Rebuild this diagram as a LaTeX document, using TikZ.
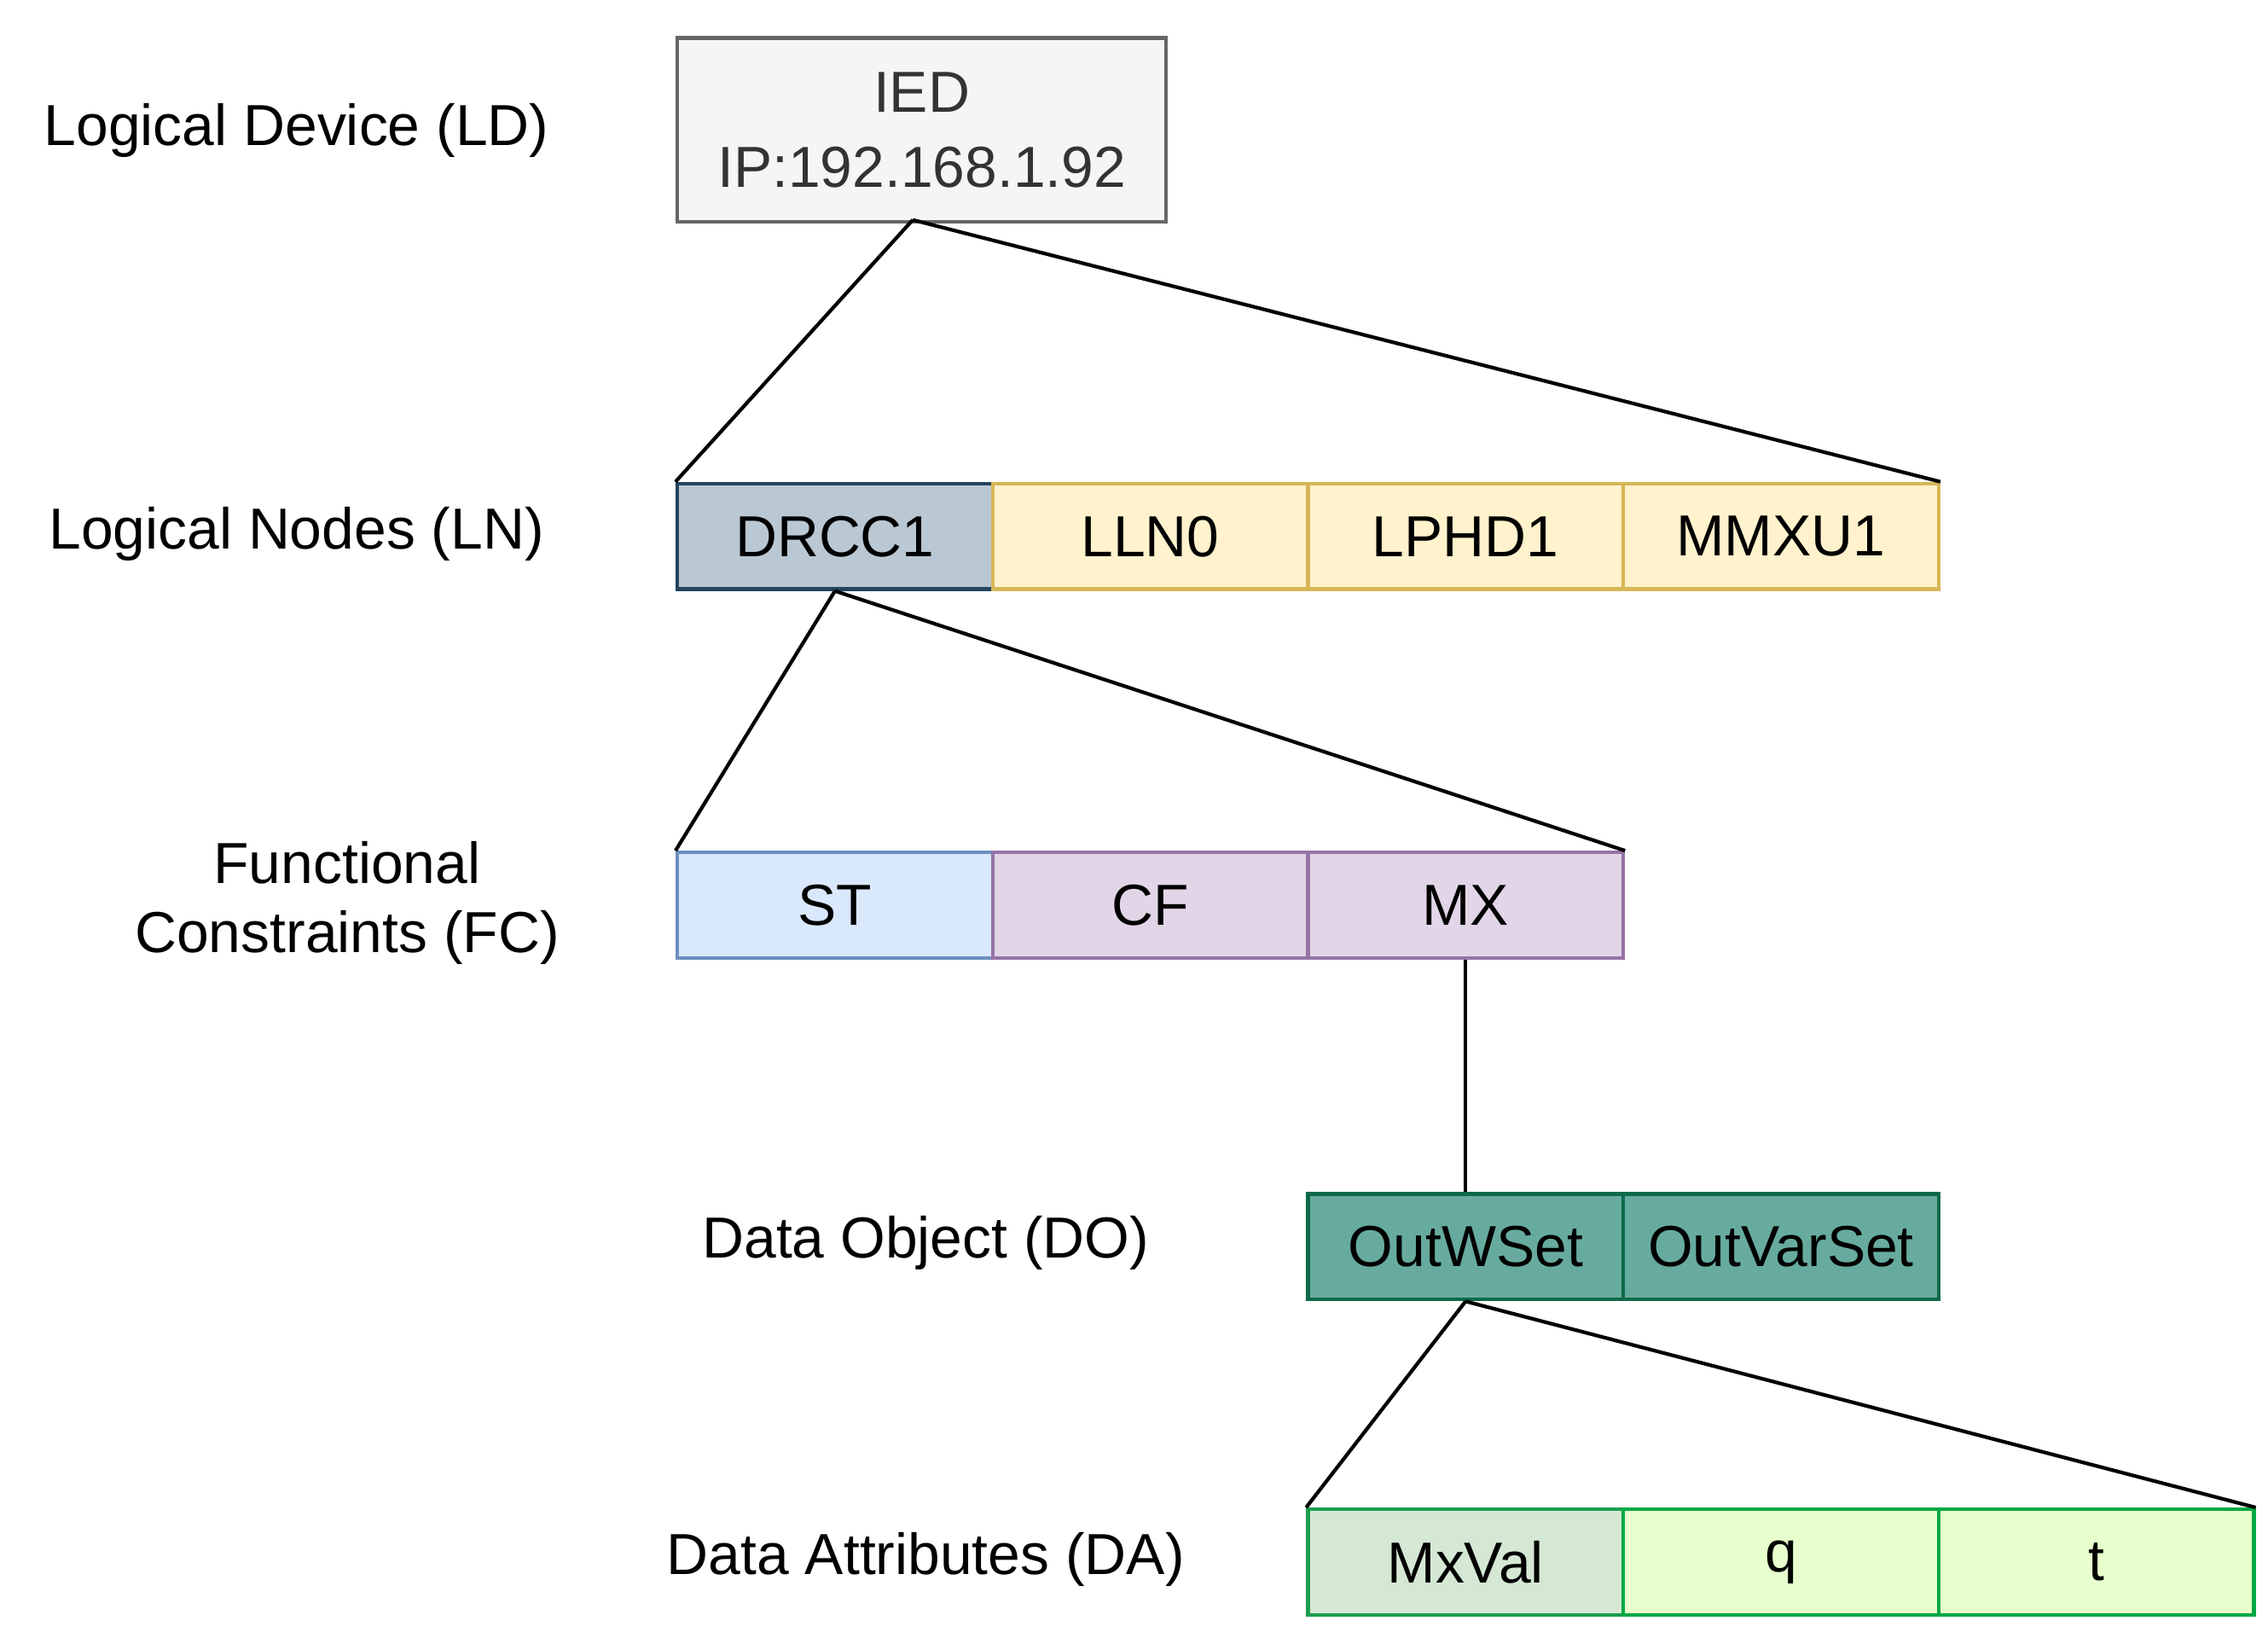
\documentclass[tikz,border=0pt]{standalone}
\usepackage{fontspec}
\setmainfont{Liberation Sans}
\begin{document}
\begin{tikzpicture}[x=1pt,y=-1pt,
  cell/.style={draw,line width=2.5pt,minimum width=218pt,minimum height=73pt,inner sep=0pt,anchor=north west,font=\fontsize{40}{48}\selectfont},
  lab/.style={font=\fontsize{40}{48}\selectfont,align=center},
  ln/.style={line width=2.5pt,black}]
\definecolor{gF}{HTML}{F5F5F5}\definecolor{gD}{HTML}{666666}
\definecolor{bgF}{HTML}{BAC8D3}\definecolor{bgD}{HTML}{23445D}
\definecolor{yF}{HTML}{FFF2CC}\definecolor{yD}{HTML}{D6B656}
\definecolor{bF}{HTML}{DAE8FC}\definecolor{bD}{HTML}{6C8EBF}
\definecolor{pF}{HTML}{E1D5E7}\definecolor{pD}{HTML}{9673A6}
\definecolor{dgF}{HTML}{67AB9F}\definecolor{dgD}{HTML}{0E6A4A}
\definecolor{lgF}{HTML}{D5E8D4}\definecolor{lgD}{HTML}{1A9E50}
\definecolor{xgF}{HTML}{E6FFCC}\definecolor{xgD}{HTML}{00A844}
\useasboundingbox (0,0) rectangle (1568,1132);
\node[cell,fill=gF,draw=gD,minimum width=338pt,minimum height=127pt,align=center,text=black!80] (ied) at (467,25) {IED\\[4pt]IP:192.168.1.92};
\node[cell,fill=bgF,draw=bgD] (drcc) at (467,333) {DRCC1};
\node[cell,fill=yF,draw=yD] (lln) at (685,333) {LLN0};
\node[cell,fill=yF,draw=yD] (lphd) at (903,333) {LPHD1};
\node[cell,fill=yF,draw=yD] (mmxu) at (1121,333) {MMXU1};
\node[cell,fill=bF,draw=bD] (st) at (467,588) {ST};
\node[cell,fill=pF,draw=pD] (cf) at (685,588) {CF};
\node[cell,fill=pF,draw=pD] (mx) at (903,588) {MX};
\node[cell,fill=dgF,draw=dgD] (ow) at (903,824) {OutWSet};
\node[cell,fill=dgF,draw=dgD] (ov) at (1121,824) {OutVarSet};
\node[cell,fill=lgF,draw=lgD] (mxv) at (903,1042) {MxVal};
\node[cell,fill=xgF,draw=xgD] (q) at (1121,1042) {q};
\node[cell,fill=xgF,draw=xgD] (t) at (1339,1042) {t};
\draw[ln] (631,152) -- (drcc.north west);
\draw[ln] (631,152) -- (mmxu.north east);
\draw[ln] (drcc.south) -- (st.north west);
\draw[ln] (drcc.south) -- (mx.north east);
\draw[ln] (mx.south) -- (ow.north);
\draw[ln] (ow.south) -- (mxv.north west);
\draw[ln] (ow.south) -- (t.north east);
\node[lab] (l1) at (205,90) {Logical Device (LD)};
\node[lab] (l2) at (205,369) {Logical Nodes (LN)};
\node[lab] (l3) at (240,624) {Functional\\Constraints (FC)};
\node[lab] (l4) at (640,859) {Data Object (DO)};
\node[lab] (l5) at (640,1078) {Data Attributes (DA)};
\end{tikzpicture}
\end{document}
